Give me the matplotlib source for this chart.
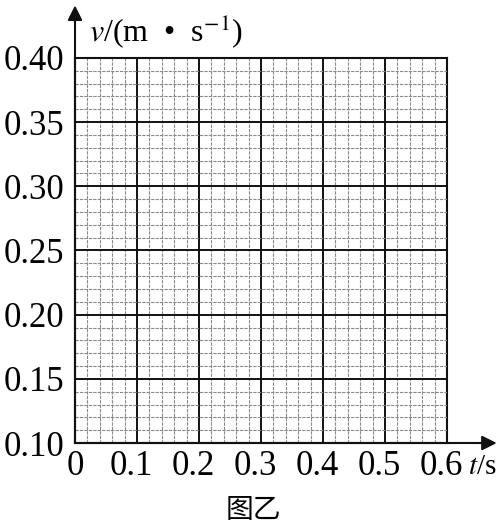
import numpy as np
import matplotlib.pyplot as plt
import matplotlib.transforms as mtransforms
from matplotlib.ticker import MultipleLocator

plt.rcParams['font.family'] = ['Liberation Serif', 'Noto Sans CJK SC', 'DejaVu Sans']
plt.rcParams['mathtext.fontset'] = 'stix'

# Axis values
t_ticks = [0, 0.1, 0.2, 0.3, 0.4, 0.5, 0.6]
t_labels = ['0', '0.1', '0.2', '0.3', '0.4', '0.5', '0.6']
v_ticks = [0.10, 0.15, 0.20, 0.25, 0.30, 0.35, 0.40]
v_labels = ['0.10', '0.15', '0.20', '0.25', '0.30', '0.35', '0.40']

fig = plt.figure(figsize=(5.02, 5.31), dpi=100)
ax = fig.add_axes([0.1494, 0.1657, 0.741, 0.7251])

ax.set_xlim(t_ticks[0], t_ticks[-1])
ax.set_ylim(v_ticks[0], v_ticks[-1])
ax.set_xticks(t_ticks)
ax.set_xticklabels(t_labels)
ax.set_yticks(v_ticks)
ax.set_yticklabels(v_labels)
ax.xaxis.set_minor_locator(MultipleLocator(0.02))
ax.yaxis.set_minor_locator(MultipleLocator(0.01))

ax.grid(which='minor', color='#8a8a8a', linestyle=(0, (3, 1)), linewidth=0.8)
ax.grid(which='major', color='#111111', linestyle='-', linewidth=1.4)
ax.set_axisbelow(False)

ax.tick_params(which='both', length=0)
ax.tick_params(axis='x', labelsize=25, pad=5)
ax.tick_params(axis='y', labelsize=25, pad=8)

# x labels sit a little left of their grid lines in the original
shift = mtransforms.ScaledTranslation(-6 / 100, 0, fig.dpi_scale_trans)
for lab in ax.get_xticklabels()[1:]:
    lab.set_transform(lab.get_transform() + shift)

for s in ax.spines.values():
    s.set_linewidth(1.5)
    s.set_color('#111111')

# axis arrows
x0, y0 = 0.1494, 0.1657
fig.add_artist(plt.Line2D([x0, 0.975], [y0, y0], color='#111111', lw=1.5))
fig.add_artist(plt.Line2D([x0, x0], [y0, 0.975], color='#111111', lw=1.5))
ax.annotate('', xy=(0.995, y0), xycoords='figure fraction',
            xytext=(0.95, y0), textcoords='figure fraction',
            arrowprops=dict(arrowstyle='-|>', color='#111111', lw=1.5,
                            mutation_scale=22))
ax.annotate('', xy=(x0, 0.995), xycoords='figure fraction',
            xytext=(x0, 0.95), textcoords='figure fraction',
            arrowprops=dict(arrowstyle='-|>', color='#111111', lw=1.5,
                            mutation_scale=22))

fig.text(0.178, 0.942, r'$v$/(m  •  s$^{-1}$)', fontsize=23,
         ha='left', va='center')
fig.text(0.932, 0.12, r'$t$/s', fontsize=21, ha='left', va='center')
fig.text(0.505, 0.04, '图乙', fontsize=20, ha='center', va='center',
         family=['Noto Sans CJK SC', 'DejaVu Sans'])

fig.savefig('out.png', dpi=100)
